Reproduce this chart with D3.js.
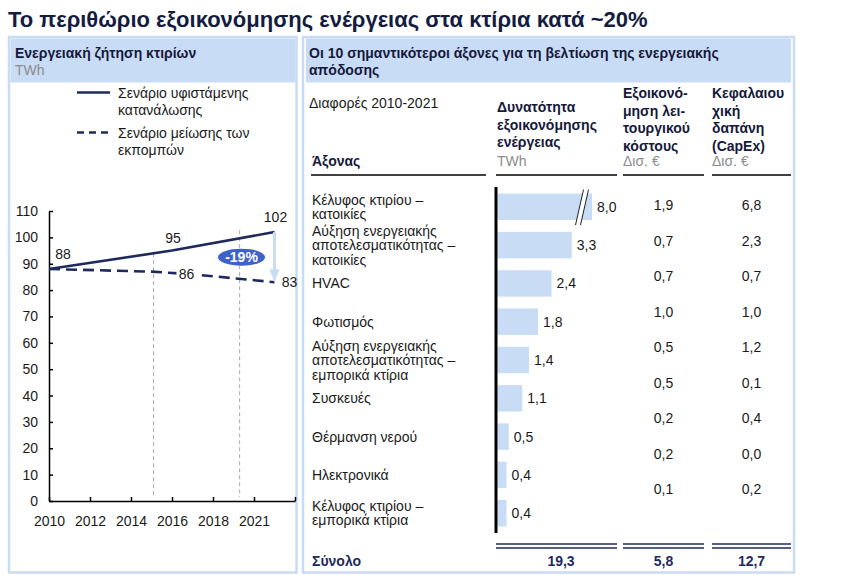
<!DOCTYPE html>
<html>
<head>
<meta charset="utf-8">
<script src="https://cdn.jsdelivr.net/npm/d3@7"></script>
<style>
  body { margin: 0; background: #fff; }
  svg { display: block; font-family: "Liberation Sans", Arial, sans-serif; }
</style>
</head>
<body>
<svg id="chart" width="846" height="575"></svg>
<script>
// ---------- DATA ----------
const title = "Το περιθώριο εξοικονόμησης ενέργειας στα κτίρια κατά ~20%";

// Left panel: building energy demand (TWh)
const leftTitle = "Ενεργειακή ζήτηση κτιρίων";
const leftUnit = "TWh";
const legendLabels = ["Σενάριο υφιστάμενης\nκατανάλωσης", "Σενάριο μείωσης των\nεκπομπών"];
const yearsCurrent = [2010, 2016, 2021];
const valuesCurrent = [88, 95, 102];
const yearsReduction = [2010, 2015, 2017, 2021];
const valuesReduction = [88, 87, 86, 83];
const labelCurrent = [true, true, true];
const labelReduction = [false, false, true, true];
const yTicks = [0, 10, 20, 30, 40, 50, 60, 70, 80, 90, 100, 110];
const xTicks = [2010, 2012, 2014, 2016, 2018, 2020, 2022];
const xTickLabels = ["2010", "2012", "2014", "2016", "2018", "2021", ""];
const markerYears = [2015.1, 2019.3];
const markerTops = [94, 102.7];
const changeLabel = "-19%";

// Right panel: top 10 levers
const rightTitle = "Οι 10 σημαντικότεροι άξονες για τη βελτίωση της ενεργειακής\nαπόδοσης";
const periodLabel = "Διαφορές 2010-2021";
const leverHeader = "Άξονας";
const colHeaders = ["Δυνατότητα\nεξοικονόμησης\nενέργειας", "Εξοικονό-\nμηση λει-\nτουργικού\nκόστους", "Κεφαλαιου\nχική\nδαπάνη\n(CapEx)"];
const colUnits = ["TWh", "Δισ. €", "Δισ. €"];
const levers = [
  "Κέλυφος κτιρίου –\nκατοικίες",
  "Αύξηση ενεργειακής\nαποτελεσματικότητας –\nκατοικίες",
  "HVAC",
  "Φωτισμός",
  "Αύξηση ενεργειακής\nαποτελεσματικότητας –\nεμπορικά κτίρια",
  "Συσκευές",
  "Θέρμανση νερού",
  "Ηλεκτρονικά",
  "Κέλυφος κτιρίου –\nεμπορικά κτίρια"
];
const savingsTWh = [8.0, 3.3, 2.4, 1.8, 1.4, 1.1, 0.5, 0.4, 0.4];
const opexSavings = [1.9, 0.7, 0.7, 1.0, 0.5, 0.5, 0.2, 0.2, 0.1];
const capexValues = [6.8, 2.3, 0.7, 1.0, 1.2, 0.1, 0.4, 0.0, 0.2];
const totalLabel = "Σύνολο";
const totals = [19.3, 5.8, 12.7];
const barBreakAt = 4.2;   // bars longer than this are drawn broken

// ---------- STYLE ----------
const navy = "#1f2a5c";
const textDark = "#1a1a1a";
const headDark = "#15193a";
const gray = "#8c8c8c";
const panelBlue = "#c9dcf6";
const barBlue = "#c9dcf6";
const pillBlue = "#3d63c8";
const FS = 14;

const svg = d3.select("#chart");
const loc = d3.formatLocale({ decimal: ",", thousands: ".", grouping: [3], currency: ["", "€"] });
const f1 = loc.format(".1f");

function multiline(sel, text, x, y, lh) {
  const lines = text.split("\n");
  lines.forEach((t, i) => {
    sel.append("tspan").attr("x", x).attr("y", y + i * lh).text(t);
  });
}

// title
svg.append("text").attr("x", 8).attr("y", 27)
  .attr("font-size", 22).attr("font-weight", "bold").attr("fill", "#141c3f")
  .text(title);

// ---------- PANELS ----------
svg.append("rect").attr("x", 9).attr("y", 37).attr("width", 287.5).attr("height", 535.5)
  .attr("fill", "none").attr("stroke", panelBlue).attr("stroke-width", 2.5);
svg.append("rect").attr("x", 10.5).attr("y", 38.5).attr("width", 285).attr("height", 44)
  .attr("fill", panelBlue);
svg.append("rect").attr("x", 303).attr("y", 37).attr("width", 491).attr("height", 535.5)
  .attr("fill", "none").attr("stroke", panelBlue).attr("stroke-width", 2.5);
svg.append("rect").attr("x", 306).attr("y", 38.5).attr("width", 485).attr("height", 44)
  .attr("fill", panelBlue);

svg.append("text").attr("x", 15).attr("y", 58).attr("font-size", FS).attr("font-weight", "bold")
  .attr("fill", headDark).text(leftTitle);
svg.append("text").attr("x", 15).attr("y", 75).attr("font-size", FS).attr("fill", gray).text(leftUnit);

svg.append("text").attr("font-size", FS).attr("font-weight", "bold").attr("fill", headDark)
  .call(s => multiline(s, rightTitle, 309, 58, 17));

// ---------- LEFT CHART ----------
const x = d3.scaleLinear().domain([2010, 2022]).range([49, 295]);
const y = d3.scaleLinear().domain([0, 110]).range([501, 211]);

const gL = svg.append("g");

// vertical dashed markers
gL.selectAll("line.marker").data(markerYears).join("line")
  .attr("x1", d => x(d)).attr("x2", d => x(d))
  .attr("y1", (d, i) => y(markerTops[i])).attr("y2", y(0) - 4)
  .attr("stroke", "#a8a8a8").attr("stroke-width", 1).attr("stroke-dasharray", "4,3");

// axes
const yAxis = d3.axisLeft(y).tickValues(yTicks).tickSizeInner(-4).tickSizeOuter(0).tickPadding(11);
gL.append("g").attr("transform", "translate(49,0)").call(yAxis)
  .call(g => g.selectAll("text").attr("font-size", FS).attr("fill", textDark).attr("font-family", null))
  .call(g => g.selectAll("line,path").attr("stroke", "#000").attr("stroke-width", 1.5));
const xAxis = d3.axisBottom(x).tickValues(xTicks).tickSizeInner(-4).tickSizeOuter(0).tickPadding(15)
  .tickFormat((d, i) => xTickLabels[i]);
gL.append("g").attr("transform", `translate(0,${y(0)})`).call(xAxis)
  .call(g => g.selectAll("text").attr("font-size", FS).attr("fill", textDark).attr("font-family", null))
  .call(g => g.selectAll("line,path").attr("stroke", "#000").attr("stroke-width", 1.5));

// lines
const cur = yearsCurrent.map((yr, i) => ({ yr, v: valuesCurrent[i] }));
const red = yearsReduction.map((yr, i) => ({ yr, v: valuesReduction[i] }));
const line = d3.line().x(d => x(d.yr)).y(d => y(d.v));
gL.append("path").attr("d", line(red)).attr("fill", "none").attr("stroke", navy)
  .attr("stroke-width", 2.6).attr("stroke-dasharray", "11,6");
gL.append("path").attr("d", line(cur)).attr("fill", "none").attr("stroke", navy)
  .attr("stroke-width", 2.6);

// change arrow
const ax = x(yearsCurrent[yearsCurrent.length - 1]);
const yTop = y(valuesCurrent[valuesCurrent.length - 1]);
const yBot = y(valuesReduction[valuesReduction.length - 1]);
gL.append("rect").attr("x", ax - 1.5).attr("y", yTop).attr("width", 3).attr("height", yBot - yTop - 11)
  .attr("fill", barBlue);
gL.append("path").attr("d", `M${ax - 5},${yBot - 13}L${ax + 5},${yBot - 13}L${ax},${yBot}Z`).attr("fill", barBlue);

// pill
const pillY = y((valuesCurrent[valuesCurrent.length - 1] + valuesReduction[valuesReduction.length - 1]) / 2);
gL.append("ellipse").attr("cx", ax - 33).attr("cy", pillY).attr("rx", 23.5).attr("ry", 8.5).attr("fill", pillBlue);
gL.append("text").attr("x", ax - 33).attr("y", pillY).attr("dy", "0.36em").attr("text-anchor", "middle")
  .attr("font-size", FS).attr("font-weight", "bold").attr("fill", "#fff").text(changeLabel);

// value labels
const curPos = [[14, -15], [1, -13], [1, -15]];
cur.forEach((d, i) => {
  if (!labelCurrent[i]) return;
  gL.append("text").attr("x", x(d.yr) + curPos[i][0]).attr("y", y(d.v) + curPos[i][1]).attr("dy", "0.36em")
    .attr("text-anchor", "middle").attr("font-size", FS).attr("fill", textDark).text(d.v);
});
const redPos = [[0, 0], [0, 0], [-6, 0], [15, 0]];
red.forEach((d, i) => {
  if (!labelReduction[i]) return;
  const tx = x(d.yr) + redPos[i][0], ty = y(d.v) + redPos[i][1];
  if (i === 2) {
    gL.append("rect").attr("x", tx - 10).attr("y", ty - 7).attr("width", 20).attr("height", 14).attr("fill", "#fff");
  }
  gL.append("text").attr("x", tx).attr("y", ty).attr("dy", "0.36em")
    .attr("text-anchor", "middle").attr("font-size", FS).attr("fill", textDark).text(d.v);
});

// legend
const legY = [92.5, 132.5];
legendLabels.forEach((lab, i) => {
  gL.append("line").attr("x1", 77).attr("x2", 110).attr("y1", legY[i]).attr("y2", legY[i])
    .attr("stroke", navy).attr("stroke-width", 2.6).attr("stroke-dasharray", i === 1 ? "7,5" : null);
  gL.append("text").attr("font-size", FS).attr("fill", textDark)
    .call(s => multiline(s, lab, 118, legY[i] + 5, 17));
});

// ---------- RIGHT TABLE ----------
const gR = svg.append("g");
gR.append("text").attr("x", 309).attr("y", 108).attr("font-size", FS).attr("fill", textDark).text(periodLabel);
gR.append("text").attr("x", 312).attr("y", 166).attr("font-size", FS).attr("font-weight", "bold")
  .attr("fill", headDark).text(leverHeader);

const colX = [497, 623, 712];
const colTopY = [112, 98, 98];
colHeaders.forEach((h, i) => {
  gR.append("text").attr("font-size", FS).attr("font-weight", "bold").attr("fill", headDark)
    .call(s => multiline(s, h, colX[i], colTopY[i], 17.5));
  gR.append("text").attr("x", colX[i]).attr("y", 166).attr("font-size", FS).attr("fill", gray).text(colUnits[i]);
});

const segs = [[311, 486], [496, 617], [623, 704], [712, 791]];
segs.forEach(s => gR.append("line").attr("x1", s[0]).attr("x2", s[1]).attr("y1", 175).attr("y2", 175)
  .attr("stroke", "#000").attr("stroke-width", 1.5));

// bars
const bx = d3.scaleLinear().domain([0, barBreakAt]).range([497.5, 592]);
const by = d3.scaleBand().domain(levers).range([187, 533]).paddingInner(0.31).paddingOuter(0.172);
const rows = levers.map((l, i) => ({ l, v: savingsTWh[i], o: opexSavings[i], c: capexValues[i] }));

gR.selectAll("rect.bar").data(rows).join("rect").attr("class", "bar")
  .attr("x", bx(0)).attr("y", d => by(d.l))
  .attr("width", d => bx(Math.min(d.v, barBreakAt)) - bx(0))
  .attr("height", by.bandwidth()).attr("fill", barBlue);

// break marks for long bars
rows.filter(d => d.v > barBreakAt).forEach(d => {
  const xe = bx(barBreakAt), t = by(d.l) - 4, b = by(d.l) + by.bandwidth() + 5;
  gR.append("path").attr("d", `M${xe - 16.5},${b}L${xe - 8.5},${t}L${xe - 3.5},${t}L${xe - 11.5},${b}Z`).attr("fill", "#fff");
  gR.append("line").attr("x1", xe - 16.5).attr("y1", b).attr("x2", xe - 8.5).attr("y2", t).attr("stroke", "#222").attr("stroke-width", 1);
  gR.append("line").attr("x1", xe - 11.5).attr("y1", b).attr("x2", xe - 3.5).attr("y2", t).attr("stroke", "#222").attr("stroke-width", 1);
});

gR.append("line").attr("x1", 496).attr("x2", 496).attr("y1", 187).attr("y2", 533)
  .attr("stroke", "#000").attr("stroke-width", 3);

gR.selectAll("text.val").data(rows).join("text").attr("class", "val")
  .attr("x", d => bx(Math.min(d.v, barBreakAt)) + 5).attr("y", d => by(d.l) + by.bandwidth() / 2)
  .attr("dy", "0.36em").attr("font-size", FS).attr("fill", textDark).text(d => f1(d.v));

// lever labels
rows.forEach(d => {
  const lines = d.l.split("\n");
  const cy = by(d.l) + by.bandwidth() / 2 - (lines.length - 1) * 14.5 / 2;
  gR.append("text").attr("font-size", FS).attr("fill", textDark)
    .call(s => multiline(s, d.l, 312, cy + 5, 14.5));
});

// other columns
const cy2 = d3.scalePoint().domain(levers).range([205, 489]);
gR.selectAll("text.opex").data(rows).join("text").attr("class", "opex")
  .attr("x", 663.5).attr("y", d => cy2(d.l)).attr("dy", "0.36em").attr("text-anchor", "middle")
  .attr("font-size", FS).attr("fill", textDark).text(d => f1(d.o));
gR.selectAll("text.capex").data(rows).join("text").attr("class", "capex")
  .attr("x", 751.5).attr("y", d => cy2(d.l)).attr("dy", "0.36em").attr("text-anchor", "middle")
  .attr("font-size", FS).attr("fill", textDark).text(d => f1(d.c));

// totals
segs.slice(1).forEach(s => {
  [544, 548].forEach(yy => gR.append("line").attr("x1", s[0]).attr("x2", s[1]).attr("y1", yy).attr("y2", yy)
    .attr("stroke", navy).attr("stroke-width", 1.3));
});
gR.append("text").attr("x", 312).attr("y", 561).attr("dy", "0.36em").attr("font-size", FS)
  .attr("font-weight", "bold").attr("fill", navy).text(totalLabel);
const totX = [561, 663.5, 751.5];
totals.forEach((t, i) => gR.append("text").attr("x", totX[i]).attr("y", 561).attr("dy", "0.36em")
  .attr("text-anchor", "middle").attr("font-size", FS).attr("font-weight", "bold").attr("fill", navy).text(f1(t)));
</script>
</body>
</html>
